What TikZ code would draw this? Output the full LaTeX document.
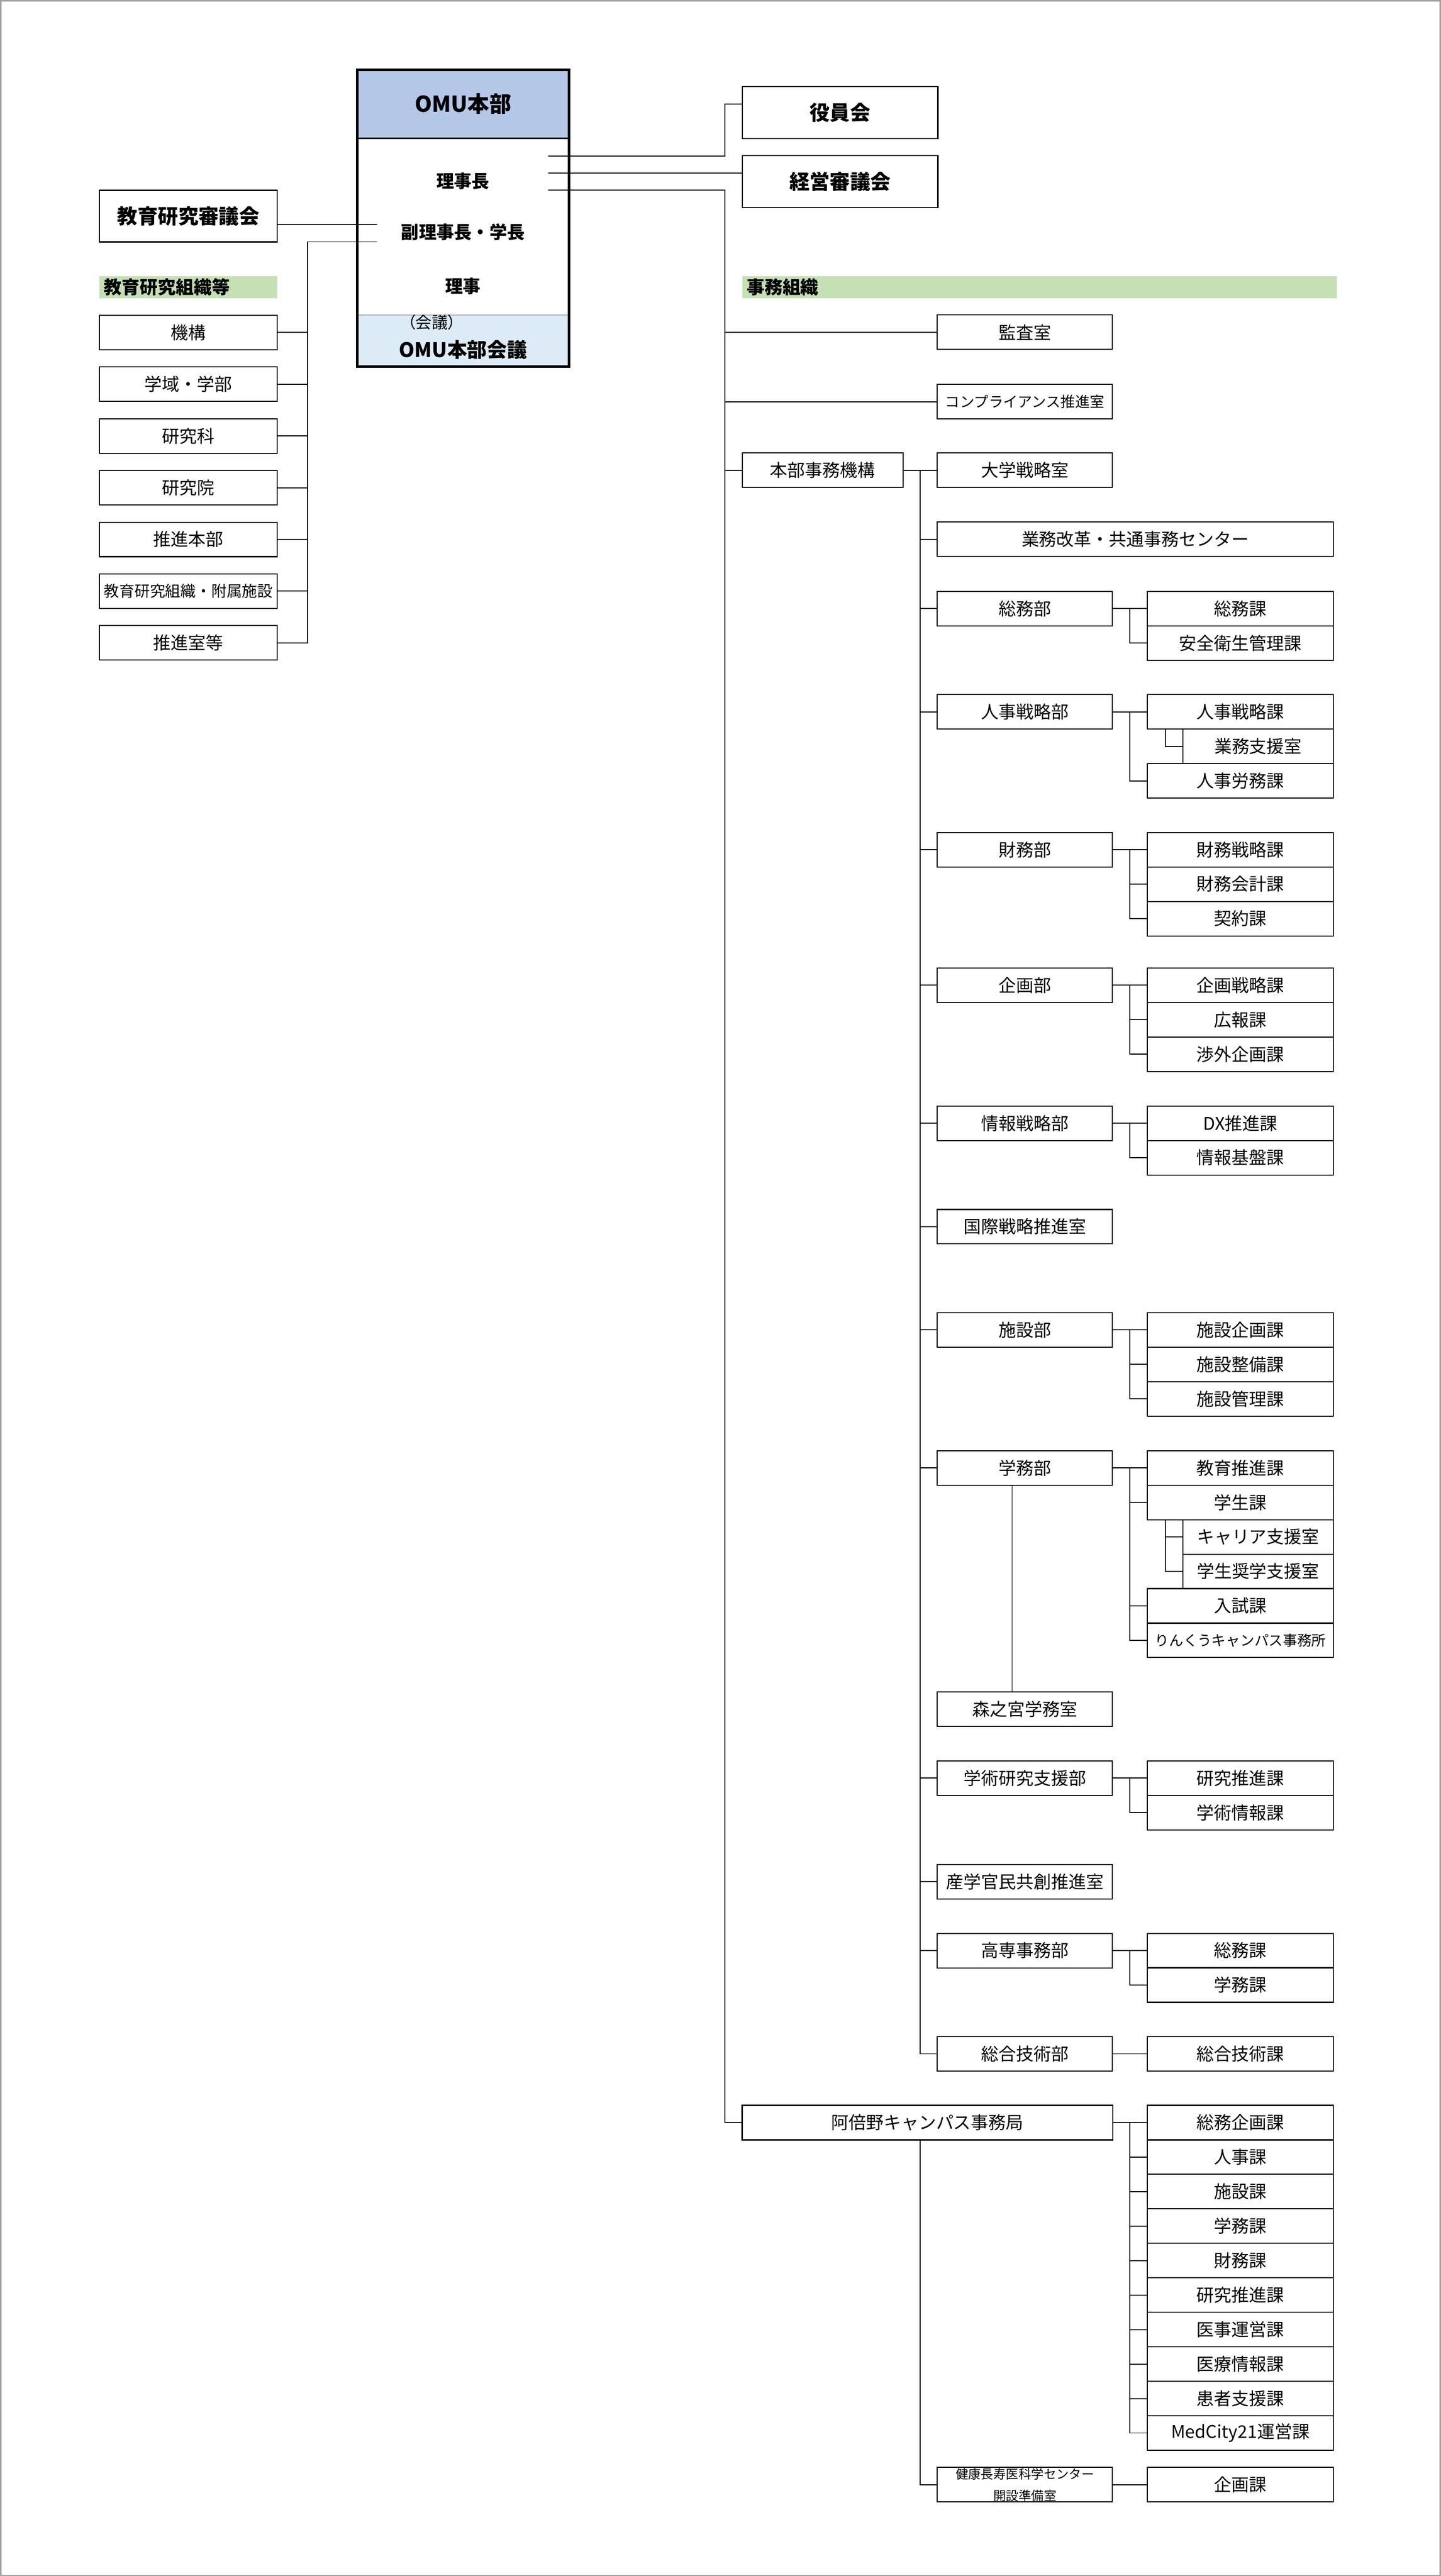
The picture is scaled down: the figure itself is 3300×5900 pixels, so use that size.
\documentclass[tikz,border=0pt]{standalone}
\usepackage{fontspec}
\setmainfont{Noto Sans CJK JP}
\usetikzlibrary{calc}
\definecolor{headblue}{HTML}{B4C7E7}
\definecolor{meetblue}{HTML}{DDEBF7}
\definecolor{bandgreen}{HTML}{C5E0B4}
\definecolor{framegray}{HTML}{A0A0A0}

\begin{document}
\begin{tikzpicture}[x=0.01cm,y=-0.01cm,line width=0.65pt,
    unit/.style={draw,line width=0.7pt,inner sep=0pt,minimum height=0.79cm,
      font=\fontsize{11.4}{13}\selectfont},
    bu/.style={unit,minimum width=4.01cm},
    ka/.style={unit,minimum width=4.26cm},
    shitsu/.style={unit,minimum width=3.45cm},
    sidebox/.style={unit,minimum width=4.07cm},
    council/.style={draw,line width=0.7pt,inner sep=0pt,minimum width=4.48cm,
      minimum height=1.19cm,font=\fontsize{13.2}{15}\selectfont\bfseries},
    bandtext/.style={anchor=west,inner sep=0pt,font=\fontsize{11.7}{13}\selectfont\bfseries},
    omutext/.style={font=\fontsize{11.5}{13}\selectfont\bfseries}]
        \useasboundingbox (0,0) rectangle (3300,5900);
        \draw[framegray,line width=0.85pt] (1.5,1.5) rectangle (3298.5,5898.5);
        % OMU本部
        \fill[headblue] (818,160) rectangle (1303,317);
        \fill[meetblue] (818,722) rectangle (1303,839);
        \draw[gray,line width=0.4pt] (818,722) -- (1303,722);
        \draw[line width=1.2pt] (818,317) -- (1303,317);
        \node[draw,line width=1.7pt,minimum width=4.85cm,minimum height=6.79cm] (omu) at (1060.5,499.5) {};
        \node[font=\fontsize{14.2}{16}\selectfont\bfseries] (omuname) at (1060.5,238) {OMU本部};
        \node[omutext] (rijicho) at (1060.5,415) {理事長};
        \node[omutext] (fukuriji) at (1060.5,532) {副理事長・学長};
        \node[omutext] (riji) at (1060.5,655) {理事};
        \node[font=\fontsize{10.5}{12}\selectfont\addfontfeatures{RawFeature=+palt},inner sep=0pt] (kaigilbl) at (989,738) {（会議）};
        \node[font=\fontsize{13}{15}\selectfont\bfseries] (kaigi) at (1060.5,801) {OMU本部会議};
        \coordinate (oR1) at (1256,357);
        \coordinate (oR2) at (1256,396);
        \coordinate (oR3) at (1256,435);
        \coordinate (oL1) at (864,514);
        \coordinate (oL2) at (864,554);
        \coordinate (spA) at (1660,435);
        \coordinate (spB) at (2108,1077);
        \coordinate (cB) at (2588,0);
        \coordinate (cC) at (2669,0);
        \coordinate (cL) at (704,554);
        \coordinate (cM) at (2318,0);
        % councils
        \node[council] (yakuin) at (1924,258) {役員会};
        \node[council] (keiei) at (1924,416) {経営審議会};
        \node[council,minimum width=4.07cm,minimum height=1.18cm] (kyoshin) at (431.5,495) {教育研究審議会};
        \coordinate (yakuinIn) at ($(yakuin.west)+(0,-20)$);
        \draw (oR1) -| (spA |- yakuinIn) -- (yakuinIn);
        \draw (oR2) -- (oR2 -| keiei.west);
        \draw (oL1) -- (oL1 -| kyoshin.east);
        % 教育研究組織等
        \fill[bandgreen] (228,632) rectangle (635,683);
        \node[bandtext] (soshiki) at (237,657.5) {教育研究組織等};
        \node[sidebox] (kiko) at (431.5,761.5) {機構};
        \node[sidebox] (gakuiki) at (431.5,880) {学域・学部};
        \node[sidebox] (kenkyuka) at (431.5,998.5) {研究科};
        \node[sidebox] (kenkyuin) at (431.5,1117) {研究院};
        \node[sidebox] (suishin) at (431.5,1235.5) {推進本部};
        \node[sidebox,font=\fontsize{10}{12}\selectfont] (fuzoku) at (431.5,1354) {教育研究組織・附属施設};
        \node[sidebox] (suishinshitsu) at (431.5,1472.5) {推進室等};
        \draw (oL2) -- (cL) -- (cL |- suishinshitsu.east) -- (suishinshitsu.east);
        \draw (cL |- kiko.east) -- (kiko.east);
        \draw (cL |- gakuiki.east) -- (gakuiki.east);
        \draw (cL |- kenkyuka.east) -- (kenkyuka.east);
        \draw (cL |- kenkyuin.east) -- (kenkyuin.east);
        \draw (cL |- suishin.east) -- (suishin.east);
        \draw (cL |- fuzoku.east) -- (fuzoku.east);
        % 事務組織
        \fill[bandgreen] (1700,633) rectangle (3062,683);
        \node[bandtext] (jimu) at (1709,658) {事務組織};
        \node[bu] (kansa) at (2347.5,761) {監査室};
        \node[bu,font=\fontsize{9.5}{11}\selectfont] (compliance) at (2347.5,920) {コンプライアンス推進室};
        \node[unit,minimum width=3.68cm] (honbu) at (1884,1077) {本部事務機構};
        \node[bu] (daigaku) at (2347.5,1077) {大学戦略室};
        \node[unit,minimum width=8.48cm] (abeno) at (2124,4861.5) {阿倍野キャンパス事務局};
        \draw (oR3) -- (spA) -- (spA |- abeno.west) -- (abeno.west);
        \draw (spA |- kansa.west) -- (kansa.west);
        \draw (spA |- compliance.west) -- (compliance.west);
        \draw (spA |- honbu.west) -- (honbu.west);
        \draw (honbu.east) -- (daigaku.west);
        % 本部事務機構
        \node[unit,minimum width=9.07cm] (center) at (2600.5,1235) {業務改革・共通事務センター};
        \node[bu] (somu) at (2347.5,1394) {総務部};
        \node[ka] (somu1) at (2841,1394) {総務課};
        \node[ka] (somu2) at (2841,1473) {安全衛生管理課};
        \node[bu] (jinji) at (2347.5,1630.5) {人事戦略部};
        \node[ka] (jinji1) at (2841,1630.5) {人事戦略課};
        \node[shitsu] (jinji2) at (2881.5,1709.5) {業務支援室};
        \node[ka] (jinji3) at (2841,1788.5) {人事労務課};
        \node[bu] (zaimu) at (2347.5,1946) {財務部};
        \node[ka] (zaimu1) at (2841,1946) {財務戦略課};
        \node[ka] (zaimu2) at (2841,2025) {財務会計課};
        \node[ka] (zaimu3) at (2841,2104) {契約課};
        \node[bu] (kikaku) at (2347.5,2256.5) {企画部};
        \node[ka] (kikaku1) at (2841,2256.5) {企画戦略課};
        \node[ka] (kikaku2) at (2841,2335.5) {広報課};
        \node[ka] (kikaku3) at (2841,2414.5) {渉外企画課};
        \node[bu] (joho) at (2347.5,2572.5) {情報戦略部};
        \node[ka] (joho1) at (2841,2572.5) {DX推進課};
        \node[ka] (joho2) at (2841,2651.5) {情報基盤課};
        \node[bu] (kokusai) at (2347.5,2809.5) {国際戦略推進室};
        \node[bu] (shisetsu) at (2347.5,3046) {施設部};
        \node[ka] (shisetsu1) at (2841,3046) {施設企画課};
        \node[ka] (shisetsu2) at (2841,3125) {施設整備課};
        \node[ka] (shisetsu3) at (2841,3204) {施設管理課};
        \node[bu] (gakumu) at (2347.5,3362) {学務部};
        \node[ka] (gakumu1) at (2841,3362) {教育推進課};
        \node[ka] (gakumu2) at (2841,3441) {学生課};
        \node[shitsu] (gakumu3) at (2881.5,3520) {キャリア支援室};
        \node[shitsu] (gakumu4) at (2881.5,3599) {学生奨学支援室};
        \node[ka] (gakumu5) at (2841,3678) {入試課};
        \node[ka,font=\fontsize{9.3}{11}\selectfont] (gakumu6) at (2841,3757) {りんくうキャンパス事務所};
        \node[bu] (morinomiya) at (2347.5,3915) {森之宮学務室};
        \node[bu] (gakujutsu) at (2347.5,4072.5) {学術研究支援部};
        \node[ka] (gakujutsu1) at (2841,4072.5) {研究推進課};
        \node[ka] (gakujutsu2) at (2841,4151.5) {学術情報課};
        \node[bu] (sangaku) at (2347.5,4309.5) {産学官民共創推進室};
        \node[bu] (kosen) at (2347.5,4467.5) {高専事務部};
        \node[ka] (kosen1) at (2841,4467.5) {総務課};
        \node[ka] (kosen2) at (2841,4546.5) {学務課};
        \node[bu] (gijutsu) at (2347.5,4704) {総合技術部};
        \node[ka] (gijutsu1) at (2841,4704) {総合技術課};
        \draw (spB) -- (spB |- gijutsu.west) -- (gijutsu.west);
        \draw (spB |- center.west) -- (center.west);
        \draw (spB |- somu.west) -- (somu.west);
        \draw (spB |- jinji.west) -- (jinji.west);
        \draw (spB |- zaimu.west) -- (zaimu.west);
        \draw (spB |- kikaku.west) -- (kikaku.west);
        \draw (spB |- joho.west) -- (joho.west);
        \draw (spB |- kokusai.west) -- (kokusai.west);
        \draw (spB |- shisetsu.west) -- (shisetsu.west);
        \draw (spB |- gakumu.west) -- (gakumu.west);
        \draw (spB |- gakujutsu.west) -- (gakujutsu.west);
        \draw (spB |- sangaku.west) -- (sangaku.west);
        \draw (spB |- kosen.west) -- (kosen.west);
        % 部から課へ
        \draw (somu.east) -- (somu1.west);
        \draw (cB |- somu.east) |- (somu2.west);
        \draw (jinji.east) -- (jinji1.west);
        \draw (cB |- jinji.east) |- (jinji3.west);
        \draw (cC |- jinji1.south) |- (jinji2.west);
        \draw (zaimu.east) -- (zaimu1.west);
        \draw (cB |- zaimu.east) |- (zaimu3.west);
        \draw (cB |- zaimu2.west) -- (zaimu2.west);
        \draw (kikaku.east) -- (kikaku1.west);
        \draw (cB |- kikaku.east) |- (kikaku3.west);
        \draw (cB |- kikaku2.west) -- (kikaku2.west);
        \draw (joho.east) -- (joho1.west);
        \draw (cB |- joho.east) |- (joho2.west);
        \draw (shisetsu.east) -- (shisetsu1.west);
        \draw (cB |- shisetsu.east) |- (shisetsu3.west);
        \draw (cB |- shisetsu2.west) -- (shisetsu2.west);
        \draw (gakumu.east) -- (gakumu1.west);
        \draw (cB |- gakumu.east) |- (gakumu6.west);
        \draw (cB |- gakumu2.west) -- (gakumu2.west);
        \draw (cB |- gakumu5.west) -- (gakumu5.west);
        \draw (cC |- gakumu2.south) |- (gakumu4.west);
        \draw (cC |- gakumu3.west) -- (gakumu3.west);
        \draw[line width=0.3pt] (cM |- gakumu.south) -- (cM |- morinomiya.north);
        \draw (gakujutsu.east) -- (gakujutsu1.west);
        \draw (cB |- gakujutsu.east) |- (gakujutsu2.west);
        \draw (kosen.east) -- (kosen1.west);
        \draw (cB |- kosen.east) |- (kosen2.west);
        \draw (gijutsu.east) -- (gijutsu1.west);
        % 阿倍野キャンパス事務局
        \node[ka] (abeno1) at (2841,4861.5) {総務企画課};
        \node[ka] (abeno2) at (2841,4940.5) {人事課};
        \node[ka] (abeno3) at (2841,5019.5) {施設課};
        \node[ka] (abeno4) at (2841,5098.5) {学務課};
        \node[ka] (abeno5) at (2841,5177.5) {財務課};
        \node[ka] (abeno6) at (2841,5256.5) {研究推進課};
        \node[ka] (abeno7) at (2841,5335.5) {医事運営課};
        \node[ka] (abeno8) at (2841,5414.5) {医療情報課};
        \node[ka] (abeno9) at (2841,5493.5) {患者支援課};
        \node[ka] (abeno10) at (2841,5572.5) {MedCity21運営課};
        \node[bu,align=center,font=\fontsize{8.2}{14}\selectfont] (kenko) at (2347.5,5691) {健康長寿医科学センター\\開設準備室};
        \node[ka] (kikakuka) at (2841,5691) {企画課};
        \draw (abeno.east) -- (abeno1.west);
        \draw (cB |- abeno.east) |- (abeno10.west);
        \draw (cB |- abeno2.west) -- (abeno2.west);
        \draw (cB |- abeno3.west) -- (abeno3.west);
        \draw (cB |- abeno4.west) -- (abeno4.west);
        \draw (cB |- abeno5.west) -- (abeno5.west);
        \draw (cB |- abeno6.west) -- (abeno6.west);
        \draw (cB |- abeno7.west) -- (abeno7.west);
        \draw (cB |- abeno8.west) -- (abeno8.west);
        \draw (cB |- abeno9.west) -- (abeno9.west);
        \draw (spB |- abeno.south) |- (kenko.west);
        \draw (kenko.east) -- (kikakuka.west);
      \end{tikzpicture}
\end{document}
